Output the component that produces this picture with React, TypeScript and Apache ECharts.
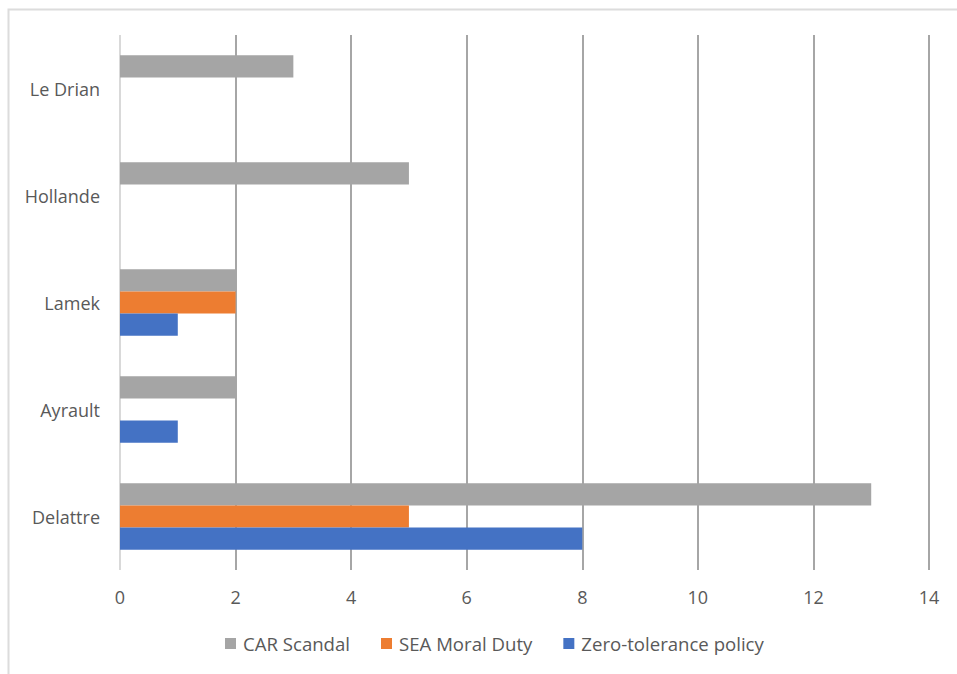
import React, { useEffect, useRef } from "react";
import * as echarts from "echarts";

const categories = ["Delattre", "Ayrault", "Lamek", "Hollande", "Le Drian"];
const zeroTolerance = [8, 1, 1, 0, 0];
const seaMoralDuty = [5, 0, 2, 0, 0];
const carScandal = [13, 2, 2, 5, 3];
const legendOrder = ["CAR Scandal", "SEA Moral Duty", "Zero-tolerance policy"];

export default function App() {
  const ref = useRef<HTMLDivElement>(null);
  useEffect(() => {
    if (!ref.current) return;
    const chart = echarts.init(ref.current, undefined, { renderer: "svg" });
    const font = "'Open Sans', 'Noto Sans', sans-serif";
    const toData = (arr: number[]) => arr.map((v) => (v === 0 ? null : v));
    chart.setOption({
      animation: false,
      backgroundColor: "#ffffff",
      textStyle: { fontFamily: font },
      graphic: [
        {
          type: "rect",
          shape: { x: 8.5, y: 9.5, width: 1000, height: 1000 },
          style: { fill: "none", stroke: "#dcdcdc", lineWidth: 2 },
          silent: true,
        },
      ],
      grid: { left: 120, right: 28, top: 35, bottom: 104, containLabel: false },
      legend: {
        data: legendOrder,
        bottom: 16,
        left: 220,
        itemWidth: 11,
        itemHeight: 11,
        itemGap: 31,
        icon: "rect",
        textStyle: { color: "#595959", fontSize: 18.6, fontFamily: font, padding: [0, 0, 0, 2] },
      },
      xAxis: {
        type: "value",
        min: 0,
        max: 14,
        interval: 2,
        axisLine: { show: false },
        axisTick: { show: false },
        axisLabel: { color: "#595959", fontSize: 18, margin: 18, fontFamily: font },
        splitLine: {
          show: true,
          lineStyle: { color: ["#d9d9d9", "#a6a6a6", "#a6a6a6", "#a6a6a6", "#a6a6a6", "#a6a6a6", "#a6a6a6", "#a6a6a6"], width: 2 },
        },
      },
      yAxis: {
        type: "category",
        data: categories,
        axisLine: { show: false },
        axisTick: { show: false },
        axisLabel: { color: "#595959", fontSize: 18, margin: 20, fontFamily: font },
        splitLine: { show: false },
      },
      series: [
        {
          name: "CAR Scandal",
          type: "bar",
          data: toData(carScandal),
          itemStyle: { color: "#A5A5A5" },
          barGap: "0%",
          barCategoryGap: "38%",
        },
        {
          name: "SEA Moral Duty",
          type: "bar",
          data: toData(seaMoralDuty),
          itemStyle: { color: "#ED7D31" },
          barGap: "0%",
          barCategoryGap: "38%",
        },
        {
          name: "Zero-tolerance policy",
          type: "bar",
          data: toData(zeroTolerance),
          itemStyle: { color: "#4472C4" },
          barGap: "0%",
          barCategoryGap: "38%",
        },
      ],
    });
    return () => chart.dispose();
  }, []);
  return (
    <div
      ref={ref}
      style={{ position: "absolute", left: 0, top: 0, width: 957, height: 674 }}
    />
  );
}
